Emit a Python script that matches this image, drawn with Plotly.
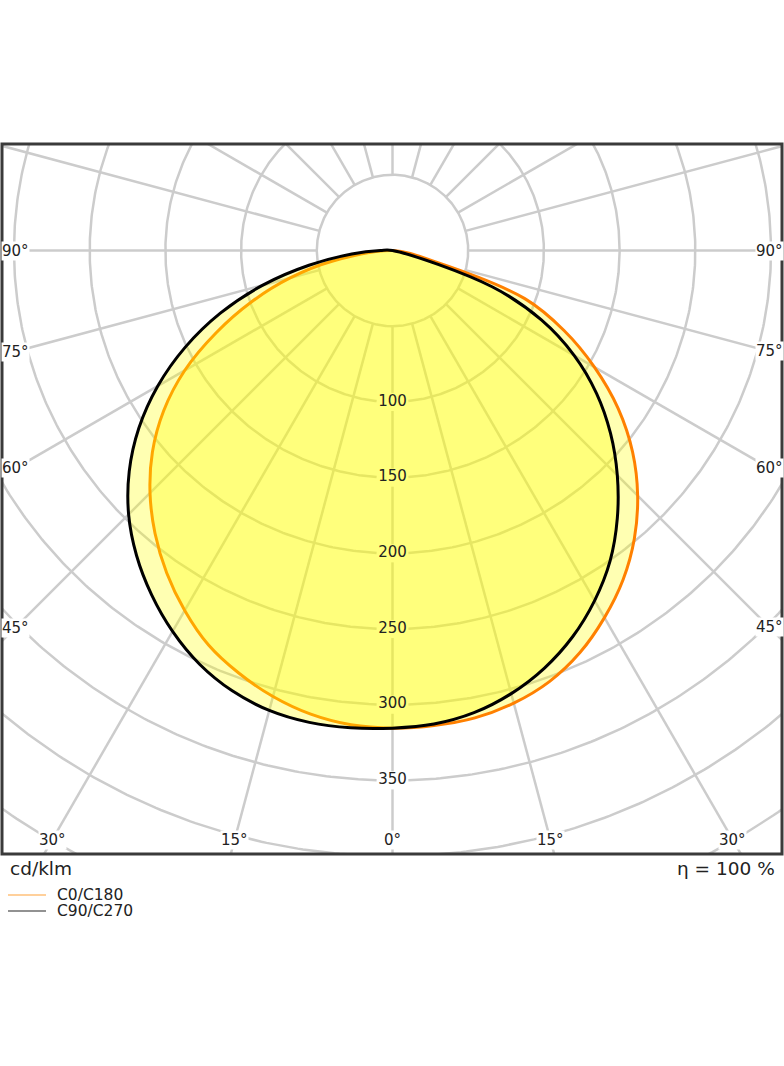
import numpy as np
import plotly.graph_objects as go

# luminous intensity distribution, cd/klm, gamma measured from nadir
GAMMA = [0, 5, 10, 15, 20, 25, 30, 35, 40, 45, 50, 55, 60, 65, 70, 75, 80, 85, 90,
         95, 100, 105, 110, 115, 120, 125, 130, 135, 140, 145, 150, 155, 160, 165, 170, 175, 180]
C0 = [315.5, 315, 313.5, 309.5, 303, 293, 280, 265.5, 248.5, 229, 207, 182, 154, 125, 93, 31, 0, 0, 0,
      0, 0, 0, 0, 0, 0, 0, 0, 0, 0, 0, 0, 0, 0, 0, 0, 0, 0]
C180 = [315.5, 314.5, 311, 305, 297, 287.5, 274.5, 260, 244, 226.5, 207, 184.5, 158.5, 128.5, 99, 70, 40, 0, 0,
        0, 0, 0, 0, 0, 0, 0, 0, 0, 0, 0, 0, 0, 0, 0, 0, 0, 0]
C90 = [315.5, 314, 310, 303, 293.5, 281.5, 267, 250.5, 231, 210, 188, 164.5, 138.5, 108.5, 70, 0, 0, 0, 0,
       0, 0, 0, 0, 0, 0, 0, 0, 0, 0, 0, 0, 0, 0, 0, 0, 0, 0]
C270 = [315.5, 316.5, 316.5, 314.5, 309.5, 301.5, 290.5, 277.5, 263, 246.5, 227, 204.5, 179, 151, 121, 89, 56, 27, 8,
        0, 0, 0, 0, 0, 0, 0, 0, 0, 0, 0, 0, 0, 0, 0, 0, 0, 0]

RINGS = [50, 100, 150, 200, 250, 300, 350, 400, 450, 500]
RING_LABELS = [100, 150, 200, 250, 300, 350]
SPOKES = list(range(0, 360, 15))
SIDE_LABELS = [90, 75, 60, 45]
BOTTOM_LABELS = [-30, -15, 0, 15, 30]

FONT = 'DejaVu Sans'
PX = 1.514                     # pixels per cd/klm
CX, CY = 392.5, 250.5          # pole position on the page
L, R, T, B = 2, 782, 144, 854  # frame on the page

xr = [(L - CX) / PX, (R - CX) / PX]
yr = [(CY - B) / PX, (CY - T) / PX]


def to_xy(r, g):
    g = np.radians(np.asarray(g, dtype=float))
    return np.asarray(r) * np.sin(g), -np.asarray(r) * np.cos(g)


def curve(left, right):
    # left half from 180 down to 0, right half from 0 up to 180;
    # repeated points at the pole are dropped so the spline stays closed and smooth
    lx, ly = to_xy(left, -np.array(GAMMA))
    rx, ry = to_xy(right[1:], GAMMA[1:])
    xs = np.concatenate([lx[::-1], rx]) + 0.0
    ys = np.concatenate([ly[::-1], ry]) + 0.0
    px, py = [xs[0]], [ys[0]]
    for x, y in zip(xs[1:], ys[1:]):
        if abs(x - px[-1]) > 1e-9 or abs(y - py[-1]) > 1e-9:
            px.append(x)
            py.append(y)
    return px, py


fig = go.Figure()

# grid circles, with a gap where the value labels sit
gap_ring = 10.5
gap_spoke = 6
gx, gy = [], []
for r in RINGS:
    half = np.degrees(gap_ring / r) if r in RING_LABELS else 0
    a = np.linspace(half, 360 - half, 721)
    x, y = to_xy(r, a)
    gx += list(x) + [None]
    gy += list(y) + [None]

for s in SPOKES:
    if s == 0:
        cuts = [50]
        for r in RING_LABELS:
            cuts += [r - gap_spoke, r + gap_spoke]
        cuts += [500]
        segs = [(cuts[i], cuts[i + 1]) for i in range(0, len(cuts), 2)]
    else:
        segs = [(50, 500)]
    for r0, r1 in segs:
        x, y = to_xy([r0, r1], [s, s])
        gx += list(x) + [None]
        gy += list(y) + [None]

fig.add_trace(go.Scatter(x=gx, y=gy, mode='lines', line=dict(color='#cccccc', width=2.5),
                         hoverinfo='skip', showlegend=False))

ox, oy = curve(C180, C0)
fig.add_trace(go.Scatter(x=ox, y=oy, mode='lines', fill='toself', fillcolor='rgba(255,255,0,0.3)',
                         line=dict(color='#ff8000', width=3, shape='spline', smoothing=1),
                         name='C0/C180', showlegend=False))
bx, by = curve(C270, C90)
fig.add_trace(go.Scatter(x=bx, y=by, mode='lines', fill='toself', fillcolor='rgba(255,255,0,0.3)',
                         line=dict(color='#000000', width=3, shape='spline', smoothing=1),
                         name='C90/C270', showlegend=False))

fig.add_trace(go.Scatter(x=[0] * len(RING_LABELS), y=[-r for r in RING_LABELS],
                         text=[str(r) for r in RING_LABELS], mode='text',
                         textfont=dict(family=FONT, size=15, color='#222222'),
                         hoverinfo='skip', showlegend=False))

# angle labels where the spokes leave the frame
annotations = []
inset_x = 13 / PX
for g in SIDE_LABELS:
    for side in (-1, 1):
        x = side * (abs(xr[0] if side < 0 else xr[1]) - inset_x)
        y = 0 if g == 90 else -abs(x) / np.tan(np.radians(g))
        annotations.append(dict(x=x, y=y, xref='x', yref='y', text=f'{g}°', showarrow=False,
                                font=dict(family=FONT, size=15, color='#222222'), bgcolor='white',
                                borderpad=0))
y_bottom = yr[0] + 14 / PX
for g in BOTTOM_LABELS:
    x = np.sign(g) * abs(y_bottom) * np.tan(np.radians(abs(g)))
    annotations.append(dict(x=x, y=y_bottom, xref='x', yref='y', text=f'{abs(g)}°', showarrow=False,
                            font=dict(family=FONT, size=15, color='#222222'), bgcolor='white',
                            borderpad=0))


def px_x(p):
    return (p - L) / (R - L)


def px_y(p):
    return (B - p) / (B - T)


annotations += [
    dict(x=px_x(8), y=px_y(868), xref='paper', yref='paper', text='cd/klm', showarrow=False,
         xanchor='left', yanchor='middle', font=dict(family=FONT, size=18.5, color='#222222')),
    dict(x=px_x(777), y=px_y(868), xref='paper', yref='paper', text='η = 100 %', showarrow=False,
         xanchor='right', yanchor='middle', font=dict(family=FONT, size=18.5, color='#222222')),
]

legend_items = [('C0/C180', '#ffc07a', 895), ('C90/C270', '#6e6e6e', 911)]
shapes = [dict(type='rect', xref='paper', yref='paper', x0=0, x1=1, y0=0, y1=1,
               line=dict(color='#3a3a3a', width=3), layer='above')]
for label, color, ypx in legend_items:
    shapes.append(dict(type='line', xref='paper', yref='paper', x0=px_x(8), x1=px_x(46),
                       y0=px_y(ypx), y1=px_y(ypx), line=dict(color=color, width=1.3)))
    annotations.append(dict(x=px_x(55), y=px_y(ypx), xref='paper', yref='paper', text=label,
                            showarrow=False, xanchor='left', yanchor='middle',
                            font=dict(family=FONT, size=15.5, color='#222222')))

fig.update_layout(
    width=784, height=1066, autosize=False,
    margin=dict(l=L, r=784 - R, t=T, b=1066 - B, pad=0),
    paper_bgcolor='white', plot_bgcolor='white',
    xaxis=dict(range=xr, visible=False, fixedrange=True),
    yaxis=dict(range=yr, visible=False, fixedrange=True),
    annotations=annotations, shapes=shapes,
    hovermode=False, showlegend=False,
)

# drop the default page margin so the figure sits at the window's corner
fig.write_html('out.html', config={'displayModeBar': False},
               post_script="document.body.style.margin='0';document.body.style.overflow='hidden';")
